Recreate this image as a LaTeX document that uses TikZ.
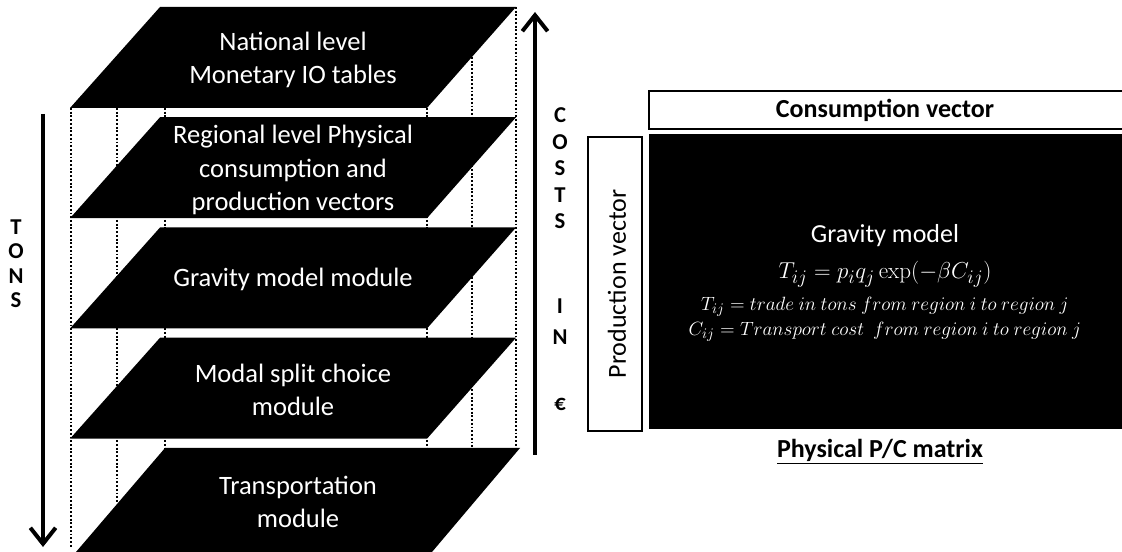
\documentclass[tikz,border=0pt]{standalone}
\usepackage[no-math]{fontspec}
\setmainfont{Carlito}
\usetikzlibrary{arrows.meta}
\begin{document}
\begin{tikzpicture}[x=0.75pt,y=-0.75pt,
  ltext/.style={text=white,align=center,font=\fontsize{19.9}{25}\selectfont},
  dots/.style={line width=1.1pt,dash pattern=on 1.4pt off 1.4pt},
  bigarrow/.style={line width=3pt,-{Straight Barb[length=12pt,width=19pt]}},
  vlet/.style={font=\bfseries\fontsize{17}{20}\selectfont,inner sep=0pt},
  vecbox/.style={draw=black,line width=1.5pt,fill=white},
  mtext/.style={text=white,inner sep=0pt},
]
\useasboundingbox (0,0) rectangle (1122,552);
% dotted guide lines (behind layers)
\coordinate (d1a) at (71,108);  \coordinate (d1b) at (71,548);
\coordinate (d2a) at (117,108); \coordinate (d2b) at (117,502);
\coordinate (d3a) at (165,108); \coordinate (d3b) at (165,448);
\coordinate (d4a) at (427,108); \coordinate (d4b) at (427,448);
\coordinate (d5a) at (472,57);  \coordinate (d5b) at (472,448);
\coordinate (d6a) at (516,7);   \coordinate (d6b) at (516,448);
\foreach \i in {1,...,6} \draw[dots] (d\i a) -- (d\i b);
% layers
\foreach \t in {7,117.25,227.5,337.75}
  \fill (70,{\t+101}) -- (160,\t) -- (516,\t) -- (427,{\t+101}) -- cycle;
\fill (76,552) -- (165,448) -- (520,448) -- (432,552) -- cycle;
\node[ltext] (l1) at (293,60) {National level\\Monetary IO tables};
\node[ltext] (l2) at (293,170) {Regional level Physical\\consumption and\\production vectors};
\node[ltext] (l3) at (293,279) {Gravity model module};
\node[ltext] (l4) at (293,390) {Modal split choice\\module};
\node[ltext] (l5) at (298,502) {Transportation\\module};
% arrows
\coordinate (tonsA) at (43,114); \coordinate (tonsB) at (43,547);
\draw[bigarrow] (tonsA) -- (tonsB);
\coordinate (costA) at (535,455); \coordinate (costB) at (535,12);
\draw[bigarrow] (costA) -- (costB);
% TONS letters
\node[vlet] (t1) at (16,227) {T};
\node[vlet] (t2) at (16,251) {O};
\node[vlet] (t3) at (16,276) {N};
\node[vlet] (t4) at (16,300) {S};
% COSTS IN EUR letters
\node[vlet] (c1) at (560,115) {C};
\node[vlet] (c2) at (560,142) {O};
\node[vlet] (c3) at (560,168) {S};
\node[vlet] (c4) at (560,195) {T};
\node[vlet] (c5) at (560,221) {S};
\node[vlet] (c6) at (560,306) {I};
\node[vlet] (c7) at (560,337) {N};
\node[vlet] (c8) at (560,404) {€};
% right part
\draw[vecbox] (649,91) rectangle (1130,129);
\node[font=\bfseries\fontsize{19.5}{24}\selectfont] (cv) at (885,110) {Consumption vector};
\fill (649,134) rectangle (1126,429);
\draw[vecbox] (588,137) rectangle (642,431);
\node[rotate=90,font=\fontsize{19.5}{24}\selectfont] (pv) at (617,284) {Production vector};
\node[mtext,font=\fontsize{19.5}{24}\selectfont] (g1) at (885,236) {Gravity model};
\node[mtext,font=\fontsize{19}{24}\selectfont] (g2) at (885,274) {$T_{ij} = p_i q_j \exp\bigl(-\beta C_{ij}\bigr)$};
\node[mtext,font=\fontsize{15}{18}\selectfont] (g3) at (885,307) {$T_{ij} = trade\ in\ tons\ from\ region\ i\ to\ region\ j$};
\node[mtext,font=\fontsize{15.2}{18}\selectfont] (g4) at (885,332) {$C_{ij} = Transport\ cost\ \ from\ region\ i\ to\ region\ j$};
\node[font=\bfseries\fontsize{19.5}{24}\selectfont] (pc) at (880,452) {\underline{Physical P/C matrix}};
\end{tikzpicture}
\end{document}
